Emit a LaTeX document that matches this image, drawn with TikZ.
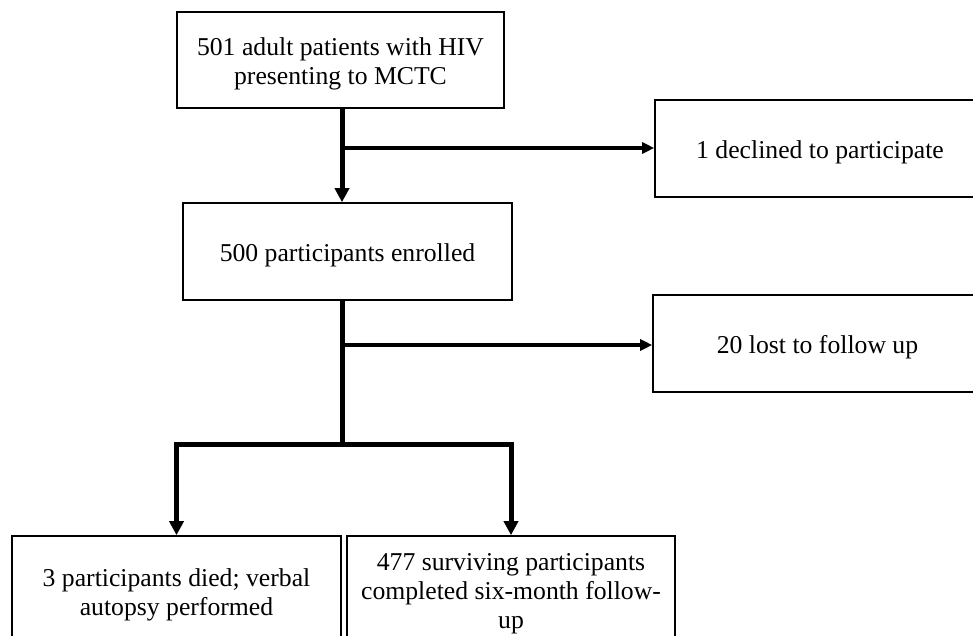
\documentclass[tikz,border=0pt]{standalone}
\usepackage{fontspec}
\setmainfont{Liberation Serif}
\usetikzlibrary{arrows.meta}
\newcommand{\dropstrut}[1]{\rule{0pt}{#1}}
\begin{document}
\begin{tikzpicture}[x=1pt,y=-1pt,
  box/.style={draw, line width=1.6pt, rectangle, inner sep=0pt, align=center,
    font=\fontsize{25.7}{29}\selectfont},
  mainflow/.style={line width=5pt, line join=miter, -{Triangle[length=14pt,width=14pt]}},
  sideflow/.style={line width=3.2pt, -{Triangle[length=12pt,width=11pt]}},
  trunk/.style={line width=5pt}]
\useasboundingbox (0,0) rectangle (973,636);
\clip (0,0) rectangle (973,636);
\node[box, minimum width=327pt, minimum height=96pt] (b1) at (340.5,60)
  {\dropstrut{26pt}501 adult patients with HIV\\presenting to MCTC};
\node[box, minimum width=329pt, minimum height=97pt] (b2) at (347.5,251.5)
  {\dropstrut{26pt}500 participants enrolled};
\node[box, minimum width=330pt, minimum height=97pt] (b3) at (820,148.5)
  {\dropstrut{26pt}1 declined to participate};
\node[box, minimum width=329pt, minimum height=97pt] (b4) at (817.5,343.5)
  {\dropstrut{26pt}20 lost to follow up};
\node[box, minimum width=329pt, minimum height=110pt] (b5) at (176.5,591)
  {\dropstrut{26pt}3 participants died; verbal\\autopsy performed};
\node[box, minimum width=328pt, minimum height=110pt] (b6) at (511,591)
  {\dropstrut{22pt}477 surviving participants\\completed six-month follow-\\up};
\coordinate (j1) at (342,148);
\coordinate (j2) at (342,345);
\coordinate (j3) at (342,444);
\draw[mainflow] (j1 |- b1.south) -- (j1 |- b2.north);
\draw[sideflow] (j1) -- (j1 -| b3.west);
\draw[trunk] (j1 |- b2.south) -- (j3);
\draw[sideflow] (j2) -- (j2 -| b4.west);
\draw[mainflow] (j3) -| (b5.north);
\draw[mainflow] (j3) -| (b6.north);
\end{tikzpicture}
\end{document}
